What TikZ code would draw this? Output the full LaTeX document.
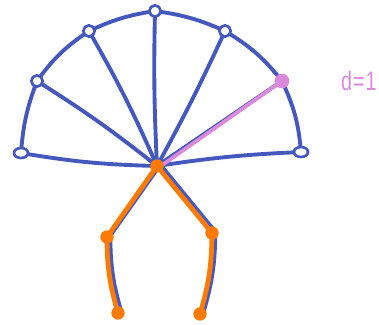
\documentclass[tikz,border=0pt]{standalone}
\usepackage{fontspec}
\setsansfont{Liberation Sans}
\usetikzlibrary{shapes.geometric}
\begin{document}
\definecolor{myblue}{HTML}{4458C0}
\definecolor{myorange}{HTML}{FF7A00}
\definecolor{mypink}{HTML}{DC88DC}
\begin{tikzpicture}[x=0.75pt,y=-0.75pt,
  edge/.style={draw=myblue,line width=2.9pt,line cap=round,line join=round},
  oedge/.style={draw=myorange,line width=3.6pt,line cap=round,line join=round},
  pedge/.style={draw=mypink,line width=2.8pt,line cap=round},
  opennode/.style={circle,draw=myblue,fill=white,line width=2pt,inner sep=0pt,minimum size=8.5pt},
  openell/.style={ellipse,draw=myblue,fill=white,line width=2pt,inner sep=0pt,minimum width=10.5pt,minimum height=7.5pt},
  onode/.style={circle,fill=myorange,inner sep=0pt,minimum size=10pt},
  pnode/.style={circle,fill=mypink,inner sep=0pt,minimum size=11pt}]
\useasboundingbox (0,0) rectangle (379,325);
% coordinates
\coordinate (c) at (157,166);
\coordinate (a1) at (21,153);
\coordinate (a2) at (37,81);
\coordinate (a3) at (89,31);
\coordinate (a4) at (155,11);
\coordinate (a5) at (225,31);
\coordinate (a6) at (282,81);
\coordinate (a7) at (301,152);
\coordinate (lm) at (107,237);
\coordinate (rm) at (212,233);
\coordinate (lb) at (118,313);
\coordinate (rb) at (200,314);
% arc
\draw[edge] (a1) to[bend left=8] (a2) to[bend left=10] (a3) to[bend left=8] (a4)
  to[bend left=8] (a5) to[bend left=10] (a6) to[bend left=10] (a7);
% spokes
\draw[edge] (c) to[bend left=4] (a1);
\draw[edge] (c) to[bend right=3] (a2);
\draw[edge] (c) to[bend right=3] (a3);
\draw[edge] (c) to[bend left=2] (a4);
\draw[edge] (c) to[bend right=2] (a5);
\draw[edge] (c) -- (a6);
\draw[edge] (c) to[bend left=3] (a7);
\draw[pedge] ([yshift=-2]c) -- (a6);
% lower tree blue
\draw[edge] ([xshift=2.5,yshift=1]c) -- ([xshift=2.5,yshift=1]lm) to[bend right=8] ([xshift=2.5,yshift=1]lb);
\draw[edge] ([xshift=2.5,yshift=1]c) -- ([xshift=2.5,yshift=1]rm) to[bend left=8] ([xshift=2.5,yshift=1]rb);
% lower tree orange
\draw[oedge] (c) -- (lm) to[bend right=8] (lb);
\draw[oedge] (c) -- (rm) to[bend left=8] (rb);
% nodes
\node[openell] (n1) at (a1) {};
\node[opennode] (n2) at (a2) {};
\node[opennode] (n3) at (a3) {};
\node[opennode] (n4) at (a4) {};
\node[opennode] (n5) at (a5) {};
\node[pnode] (n6) at (a6) {};
\node[openell] (n7) at (a7) {};
\node[onode] (hub) at (c) {};
\node[onode] (nlm) at (lm) {};
\node[onode] (nrm) at (rm) {};
\node[onode] (nlb) at (lb) {};
\node[onode] (nrb) at (rb) {};
\node[anchor=west,text=mypink,font=\sffamily\fontsize{20}{20}\selectfont,inner sep=0pt,xscale=0.74] (lbl) at (341,81) {d\kern1pt=\kern1pt1};
\end{tikzpicture}
\end{document}
